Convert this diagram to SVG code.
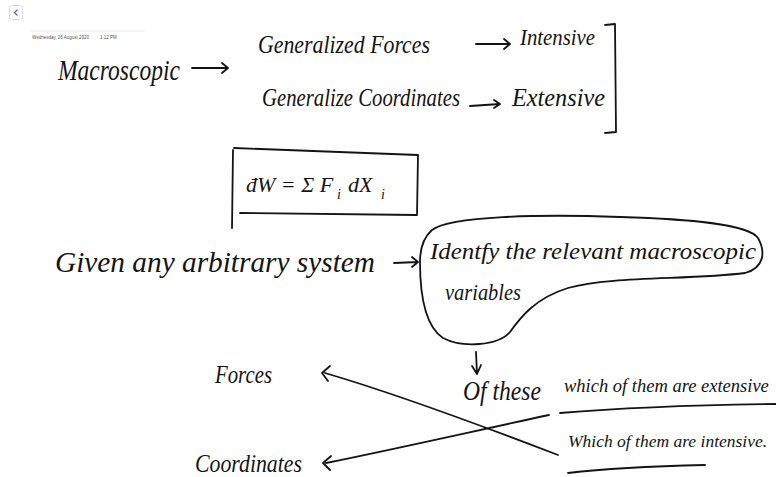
<svg xmlns="http://www.w3.org/2000/svg" width="776" height="477" viewBox="0 0 776 477">
<style>
.h{font-family:"Liberation Serif","DejaVu Serif",serif;font-style:italic;fill:#141414}
.s{fill:none;stroke:#141414;stroke-width:1.8;stroke-linecap:round;stroke-linejoin:round}
.meta{font-family:"Liberation Sans",Arial,sans-serif;font-size:4.5px;fill:#555}
</style>
<rect width="776" height="477" fill="#fff"/>
<g id="back"><rect x="9.5" y="5.5" width="13" height="14" rx="2" fill="#fff" stroke="#ddd"/><path d="M17.5,9.5 L14.5,12.5 L17.5,15.5" fill="none" stroke="#7a5aa8" stroke-width="1.2"/></g>
<g id="date"><line x1="30" y1="31" x2="145" y2="31" stroke="#eee"/><text class="meta" x="32" y="39">Wednesday, 26 August 2020</text><text class="meta" x="100" y="39">1:12 PM</text></g>

<g id="macroscopic"><text class="h" x="58" y="80" font-size="30" textLength="122" lengthAdjust="spacingAndGlyphs">Macroscopic</text></g>
<g id="gen-forces"><text class="h" x="258" y="53" font-size="26" textLength="172" lengthAdjust="spacingAndGlyphs">Generalized Forces</text></g>
<g id="intensive"><text class="h" x="520" y="45" font-size="24" textLength="75" lengthAdjust="spacingAndGlyphs">Intensive</text></g>
<g id="gen-coords"><text class="h" x="262" y="106" font-size="26" textLength="198" lengthAdjust="spacingAndGlyphs">Generalize Coordinates</text></g>
<g id="extensive"><text class="h" x="512" y="106" font-size="26" textLength="93" lengthAdjust="spacingAndGlyphs">Extensive</text></g>
<g id="work-box"><path class="s" d="M233,150 L232,228 M234,148 L418,155 L417,215 L240,213"/>
<text class="h" x="246" y="192" font-size="22">đW = Σ F</text>
<text class="h" x="337" y="199" font-size="14">i</text>
<text class="h" x="348" y="192" font-size="22">dX</text>
<text class="h" x="381" y="199" font-size="14">i</text></g>
<g id="given"><text class="h" x="55" y="272" font-size="30" textLength="320" lengthAdjust="spacingAndGlyphs">Given any arbitrary system</text></g>
<g id="identify"><path class="s" d="M432,230 C450,216 540,214 620,217 C690,219 748,224 758,238 C766,252 764,268 745,273 C690,280 610,276 568,288 C535,298 520,318 510,332 C498,346 462,348 443,338 C425,326 420,295 420,262 C420,248 424,237 432,230 Z"/><text class="h" x="430" y="259" font-size="24" textLength="326" lengthAdjust="spacingAndGlyphs">Identfy the relevant macroscopic</text><text class="h" x="445" y="300" font-size="24" textLength="76" lengthAdjust="spacingAndGlyphs">variables</text></g>
<g id="of-these"><text class="h" x="463" y="400" font-size="28" textLength="78" lengthAdjust="spacingAndGlyphs">Of these</text></g>
<g id="which-ext"><text class="h" x="564" y="392" font-size="18.5">which of them are extensive</text><path class="s" d="M560,413 C620,408 700,405 776,404"/></g>
<g id="which-int"><text class="h" x="568" y="447" font-size="17.5">Which of them are intensive.</text><path class="s" d="M568,473 C610,468 660,466 705,465"/></g>
<g id="forces"><text class="h" x="215" y="383" font-size="26" textLength="57" lengthAdjust="spacingAndGlyphs">Forces</text></g>
<g id="coordinates"><text class="h" x="195" y="472" font-size="26" textLength="107" lengthAdjust="spacingAndGlyphs">Coordinates</text></g>

<g id="connectors">
<path class="s" d="M192,68 L228,68 M222,63 L228,68 L222,73"/>
<path class="s" d="M476,44 L510,44 M504,39 L510,44 L504,49"/>
<path class="s" d="M470,106 L500,104 M494,100 L500,104 L494,108"/>
<path class="s" d="M605,25 L615,24 L616,132 L605,133"/>
<path class="s" d="M394,263 L418,262 M412,257 L418,262 L412,267"/>
<path class="s" d="M476,352 L477,374 M472,366 L477,374 L481,365"/>
<path class="s" d="M325,373 C400,395 480,425 558,455 M330,366 L322,373 L328,381"/>
<path class="s" d="M549,415 C470,432 400,448 326,463 M331,456 L323,463 L330,470"/>
</g>
</svg>
